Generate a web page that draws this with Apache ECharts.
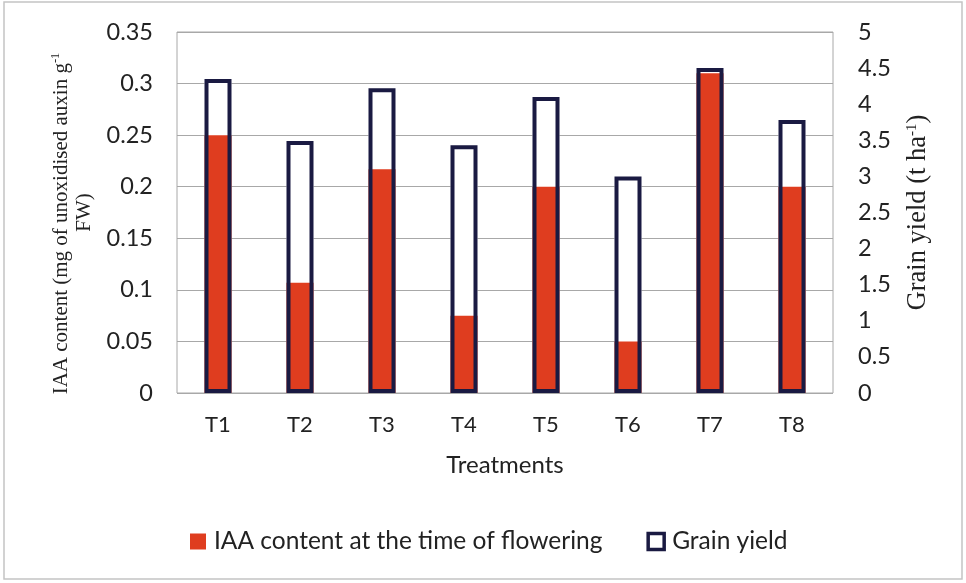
<!DOCTYPE html>
<html>
<head>
<meta charset="utf-8">
<script src="https://cdn.jsdelivr.net/npm/echarts@6/dist/echarts.min.js"></script>
<style>
  html, body { margin: 0; padding: 0; background: #fff; }
  #chart { width: 966px; height: 583px; }
</style>
</head>
<body>
<div id="chart"></div>
<script>
// Treatments on the category axis
const treatments = ['T1', 'T2', 'T3', 'T4', 'T5', 'T6', 'T7', 'T8'];
// IAA content at flowering (mg of unoxidised auxin g-1 FW), left axis
const iaaContent = [0.25, 0.107, 0.217, 0.075, 0.2, 0.05, 0.31, 0.2];
// Grain yield (t ha-1), right axis
const grainYield = [4.35, 3.49, 4.22, 3.43, 4.1, 3.0, 4.5, 3.78];

const iaaName = 'IAA content at the time of flowering';
const yieldName = 'Grain yield';

const sans = 'Lato, "Open Sans", sans-serif';
const serif = '"Liberation Serif", "DejaVu Serif", serif';
const red = '#df3d1f';
const navy = '#1a1a42';
const textColor = '#222';

const chart = echarts.init(document.getElementById('chart'), null, { renderer: 'canvas' });

chart.setOption({
  backgroundColor: '#fff',
  animation: false,
  graphic: [{
    type: 'rect',
    shape: { x: 4, y: 2, width: 958, height: 577 },
    style: { fill: 'none', stroke: '#c4c4c4', lineWidth: 1.5 },
    silent: true,
    z: -10
  }],
  grid: {
    left: 177, right: 133, top: 32, bottom: 190,
    show: true, borderColor: '#a8a8a8', borderWidth: 1
  },
  legend: {
    top: 524,
    left: 185,
    itemWidth: 16, itemHeight: 16,
    itemGap: 44,
    textStyle: { fontFamily: sans, fontSize: 24.5, color: textColor, padding: [0, 0, 0, 3] },
    data: [
      { name: iaaName, icon: 'rect', itemStyle: { color: red, borderWidth: 0 } },
      { name: yieldName, icon: 'rect', itemStyle: { color: '#fff', borderColor: navy, borderWidth: 3.5 } }
    ]
  },
  xAxis: {
    type: 'category',
    data: treatments,
    name: 'Treatments',
    nameLocation: 'middle',
    nameGap: 60,
    nameTextStyle: { fontFamily: sans, fontSize: 24, color: textColor },
    axisLine: { show: false },
    axisTick: { show: false },
    axisLabel: { fontFamily: sans, fontSize: 22, color: textColor, margin: 21 }
  },
  yAxis: [{
    type: 'value',
    min: 0, max: 0.35, interval: 0.05,
    name: 'IAA content (mg of unoxidised auxin g{sup|-1}{pad| }\nFW)',
    nameLocation: 'middle',
    nameRotate: 90,
    nameGap: 65,
    nameTextStyle: {
      fontFamily: serif, fontSize: 21, color: textColor, lineHeight: 23, align: 'center',
      rich: {
        sup: { fontFamily: serif, fontSize: 12.5, verticalAlign: 'top', lineHeight: 16 },
        pad: { width: 22, fontSize: 12 }
      }
    },
    axisLine: { show: false },
    axisTick: { show: false },
    splitLine: { lineStyle: { color: '#a8a8a8', width: 1 } },
    axisLabel: { fontFamily: sans, fontSize: 23.5, color: textColor, margin: 24 }
  }, {
    type: 'value',
    min: 0, max: 5, interval: 0.5,
    position: 'right',
    name: 'Grain yield (t ha{sup|-1})',
    nameLocation: 'middle',
    nameRotate: 90,
    nameGap: 72,
    nameTextStyle: {
      fontFamily: serif, fontSize: 26.5, color: textColor,
      rich: { sup: { fontFamily: serif, fontSize: 15, verticalAlign: 'top', lineHeight: 18 } }
    },
    axisLine: { show: false },
    axisTick: { show: false },
    splitLine: { show: false },
    axisLabel: { fontFamily: sans, fontSize: 23.5, color: textColor, margin: 25 }
  }],
  series: [{
    // white body of the grain-yield columns
    name: yieldName,
    type: 'bar',
    yAxisIndex: 1,
    data: grainYield,
    barWidth: 27,
    barGap: '-100%',
    itemStyle: { color: '#fff' },
    z: 1
  }, {
    name: iaaName,
    type: 'bar',
    yAxisIndex: 0,
    data: iaaContent,
    barWidth: 27,
    barGap: '-100%',
    itemStyle: { color: red },
    z: 2
  }, {
    // dark outline of the grain-yield columns, drawn over the red fill
    name: yieldName,
    type: 'bar',
    yAxisIndex: 1,
    data: grainYield,
    barWidth: 27,
    barGap: '-100%',
    itemStyle: { color: 'rgba(0,0,0,0)', borderColor: navy, borderWidth: 4 },
    z: 3
  }]
});
</script>
</body>
</html>
